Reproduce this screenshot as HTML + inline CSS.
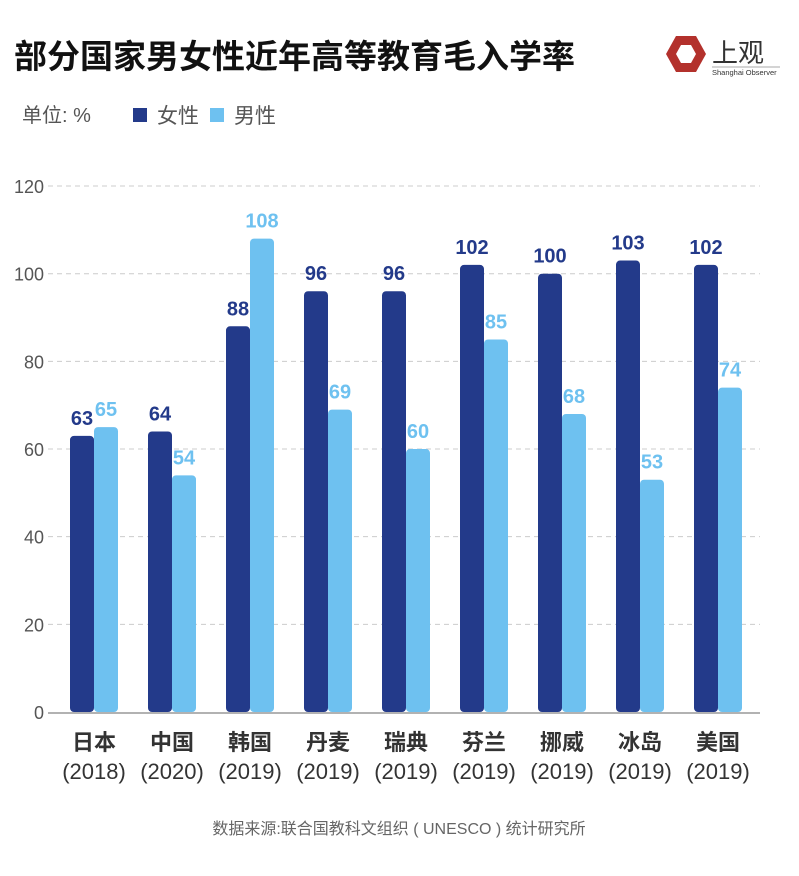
<!DOCTYPE html>
<html><head><meta charset="utf-8"><style>
body{margin:0;background:#fff;}
svg text{font-family:"Liberation Sans","Noto Sans CJK SC",sans-serif;}
</style></head><body>
<svg id="c" width="799" height="871" viewBox="0 0 799 871" xmlns="http://www.w3.org/2000/svg">
<text x="14" y="68" font-size="33" font-weight="bold" fill="#111">部分国家男女性近年高等教育毛入学率</text>
<g>
<polygon points="676,36 696,36 706,54 696,72 676,72 666,54" fill="#b3312c"/>
<polygon points="681,45 691,45 696,54 691,63 681,63 676,54" fill="#fff"/>
<text x="712" y="62" font-size="26" fill="#333">上观</text>
<line x1="712" y1="67" x2="780" y2="67" stroke="#aaa" stroke-width="1"/>
<text x="712" y="75" font-size="7.5" fill="#333">Shanghai Observer</text>
</g>
<text x="22" y="122" font-size="20" fill="#555">单位: %</text>
<rect x="133" y="108" width="14" height="14" fill="#233a8a"/>
<text x="157" y="123" font-size="21" fill="#555">女性</text>
<rect x="210" y="108" width="14" height="14" fill="#6ec1f0"/>
<text x="234" y="123" font-size="21" fill="#555">男性</text>
<g id="grid"></g><g id="bars"></g>
<text x="399" y="834" font-size="16" fill="#666" text-anchor="middle">数据来源:联合国教科文组织 ( UNESCO ) 统计研究所</text>
</svg>
<script>
const countries=["日本","中国","韩国","丹麦","瑞典","芬兰","挪威","冰岛","美国"];
const years=["(2018)","(2020)","(2019)","(2019)","(2019)","(2019)","(2019)","(2019)","(2019)"];
const female=[63,64,88,96,96,102,100,103,102];
const male=[65,54,108,69,60,85,68,53,74];
const ticks=[0,20,40,60,80,100,120];
const NS="http://www.w3.org/2000/svg";
const y0=712,yScale=v=>y0-v*4.383;
const xc=i=>94+i*78;
function mk(t,a,p){const e=document.createElementNS(NS,t);for(const k in a)e.setAttribute(k,a[k]);p.appendChild(e);return e;}
const g=document.getElementById('grid'),b=document.getElementById('bars');
ticks.forEach(t=>{
  const y=yScale(t);
  if(t>0){const l=mk('line',{x1:48,x2:760,y1:y,y2:y,stroke:'#ccc','stroke-dasharray':'5,4'},g);
  
  }
  const tx=mk('text',{x:44,y:y+7,'font-size':18,fill:'#555','text-anchor':'end'},g);tx.textContent=t;
  
  
});
const ax=mk('line',{x1:48,x2:760,y1:y0+1,y2:y0+1,stroke:'#999','stroke-width':1.5},g);


countries.forEach((c,i)=>{
  const x=xc(i);
  [[female[i],'#233a8a',x-24],[male[i],'#6ec1f0',x]].forEach(([v,col,bx],k)=>{
    const y=yScale(v);
    const r=mk('rect',{x:bx,y:y,width:24,height:y0-y,rx:4,fill:col},b);
    
    
    const t=mk('text',{x:bx+12,y:y-11,'font-size':20,'font-weight':'bold',fill:col,'text-anchor':'middle'},b);t.textContent=v;
    
    
  });
  const t1=mk('text',{x:x,y:750,'font-size':22,'font-weight':'bold',fill:'#333','text-anchor':'middle'},b);t1.textContent=c;
  
  
  const t2=mk('text',{x:x,y:779,'font-size':22,fill:'#333','text-anchor':'middle'},b);t2.textContent=years[i];
  
  
});
</script>
</body></html>
